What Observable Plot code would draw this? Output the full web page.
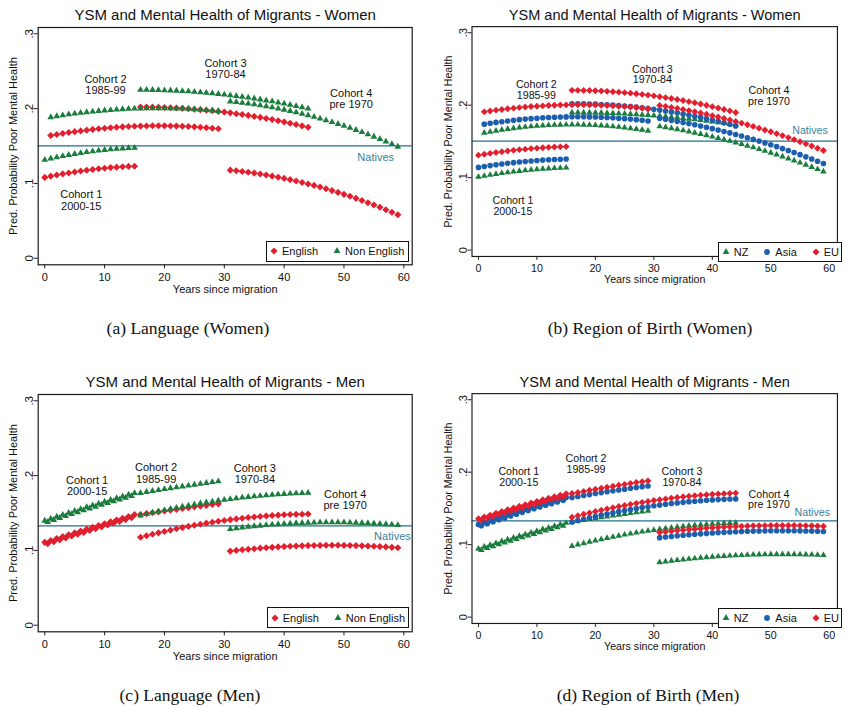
<!DOCTYPE html>
<html><head><meta charset="utf-8">
<script src="https://cdn.jsdelivr.net/npm/d3@7"></script>
<script src="https://cdn.jsdelivr.net/npm/@observablehq/plot@0.6"></script>
<style>
html,body{margin:0;padding:0;background:#fff;}
body{width:845px;height:708px;overflow:hidden;position:relative;font-family:"Liberation Sans",Arial,sans-serif;color:#111;}
.panel{position:absolute;}
.caption{position:absolute;font-family:"Liberation Serif","Times New Roman",serif;font-size:17.5px;color:#111;white-space:nowrap;transform:translate(-50%,-50%);}
.legend{position:absolute;border:1.3px solid #111;background:#fff;display:flex;align-items:center;font-size:11px;box-sizing:border-box;padding-left:3px;}
.legend .item{display:inline-flex;align-items:center;}
.legend .item + .item{margin-left:15px;}
.legend svg{margin-right:4px;overflow:visible;}
</style></head><body>
<script>
// ---------- categories / tick labels ----------
const yrC1 = [0,1,2,3,4,5,6,7,8,9,10,11,12,13,14,15];
const yrC2 = [1,2,3,4,5,6,7,8,9,10,11,12,13,14,15,16,17,18,19,20,21,22,23,24,25,26,27,28,29];
const yrC3 = [16,17,18,19,20,21,22,23,24,25,26,27,28,29,30,31,32,33,34,35,36,37,38,39,40,41,42,43,44];
const yrC4 = [31,32,33,34,35,36,37,38,39,40,41,42,43,44,45,46,47,48,49,50,51,52,53,54,55,56,57,58,59];
const yrC1m = [0,0.5,1,1.5,2,2.5,3,3.5,4,4.5,5,5.5,6,6.5,7,7.5,8,8.5,9,9.5,10,10.5,11,11.5,12,12.5,13,13.5,14,14.5,15];
const yrC2m = [16,17,18,19,20,21,22,23,24,25,26,27,28,29];
const xTicks = [0,10,20,30,40,50,60];
const yTicks = [0,0.1,0.2,0.3];
const cohortLabels = ["Cohort 1\n2000-15","Cohort 2\n1985-99","Cohort 3\n1970-84","Cohort 4\npre 1970"];
const titles = ["YSM and Mental Health of Migrants - Women","YSM and Mental Health of Migrants - Men"];
const xLabel = "Years since migration";
const yLabel = "Pred. Probability Poor Mental Health";
const captions = ["(a) Language (Women)","(b) Region of Birth (Women)","(c) Language (Men)","(d) Region of Birth (Men)"];
const nativesWomen = 0.1503;
const nativesMen = 0.1329;

// ---------- (a) Language, Women ----------
const aEng1 = [0.108,0.1097,0.1112,0.1127,0.114,0.1153,0.1165,0.1176,0.1186,0.1195,0.1203,0.1211,0.1217,0.1222,0.1227,0.123];
const aEng2 = [0.164,0.1654,0.1668,0.168,0.1692,0.1702,0.1712,0.1722,0.173,0.1738,0.1744,0.175,0.1756,0.176,0.1764,0.1766,0.1768,0.177,0.177,0.177,0.1768,0.1766,0.1764,0.176,0.1756,0.175,0.1744,0.1738,0.173];
const aEng3 = [0.202,0.202,0.2019,0.2017,0.2015,0.2011,0.2008,0.2003,0.1998,0.1992,0.1986,0.1978,0.1971,0.1962,0.1953,0.1943,0.1932,0.1921,0.1909,0.1896,0.1882,0.1868,0.1854,0.1838,0.1822,0.1805,0.1788,0.1769,0.175];
const aEng4 = [0.1177,0.1169,0.1159,0.1149,0.1138,0.1125,0.1112,0.1098,0.1083,0.1067,0.105,0.1032,0.1013,0.0993,0.0973,0.0951,0.0928,0.0904,0.088,0.0854,0.0828,0.08,0.0772,0.0742,0.0712,0.0681,0.0648,0.0615,0.0581];
const aNon1 = [0.1315,0.1333,0.1349,0.1365,0.138,0.1393,0.1406,0.1418,0.1428,0.1438,0.1447,0.1455,0.1461,0.1467,0.1472,0.1476];
const aNon2 = [0.1885,0.1898,0.191,0.1922,0.1933,0.1943,0.1952,0.196,0.1968,0.1975,0.1981,0.1987,0.1992,0.1996,0.1999,0.2002,0.2004,0.2005,0.2005,0.2005,0.2004,0.2002,0.1999,0.1996,0.1992,0.1987,0.1981,0.1975,0.1968];
const aNon3 = [0.225,0.225,0.2249,0.2247,0.2245,0.2242,0.2239,0.2234,0.223,0.2224,0.2218,0.2211,0.2204,0.2196,0.2188,0.2178,0.2168,0.2158,0.2147,0.2135,0.2122,0.2109,0.2096,0.2081,0.2066,0.2051,0.2034,0.2017,0.2];
const aNon4 = [0.2095,0.2087,0.2077,0.2067,0.2056,0.2044,0.203,0.2016,0.2001,0.1985,0.1968,0.1949,0.193,0.191,0.1889,0.1867,0.1844,0.182,0.1795,0.1769,0.1742,0.1714,0.1685,0.1655,0.1624,0.1592,0.1559,0.1525,0.149];

// ---------- (b) Region of birth, Women ----------
const bNZ1 = [0.101,0.1024,0.1037,0.105,0.1061,0.1072,0.1082,0.1091,0.11,0.1107,0.1114,0.1121,0.1126,0.113,0.1134,0.1137];
const bNZ2 = [0.1618,0.1633,0.1646,0.1659,0.1671,0.1681,0.1691,0.17,0.1707,0.1714,0.1719,0.1724,0.1727,0.173,0.1731,0.1732,0.1731,0.173,0.1727,0.1724,0.1719,0.1714,0.1707,0.17,0.1691,0.1681,0.1671,0.1659,0.1646];
const bNZ3 = [0.19,0.19,0.1899,0.1898,0.1897,0.1895,0.1892,0.1889,0.1886,0.1882,0.1878,0.1873,0.1868,0.1863,0.1857,0.1851,0.1844,0.1836,0.1829,0.1821,0.1812,0.1803,0.1794,0.1784,0.1773,0.1763,0.1751,0.174,0.1728];
const bNZ4 = [0.1707,0.1694,0.168,0.1666,0.1651,0.1635,0.1619,0.1602,0.1584,0.1565,0.1546,0.1526,0.1506,0.1485,0.1463,0.144,0.1417,0.1393,0.1368,0.1343,0.1317,0.129,0.1263,0.1235,0.1206,0.1176,0.1146,0.1116,0.1084];
const bAsia1 = [0.1141,0.1154,0.1166,0.1177,0.1188,0.1198,0.1207,0.1215,0.1223,0.123,0.1236,0.1242,0.1247,0.1251,0.1254,0.1257];
const bAsia2 = [0.1738,0.175,0.1762,0.1772,0.1782,0.1792,0.18,0.1808,0.1814,0.182,0.1826,0.183,0.1834,0.1836,0.1838,0.184,0.184,0.184,0.1838,0.1836,0.1834,0.183,0.1826,0.182,0.1814,0.1808,0.18,0.1792,0.1782];
const bAsia3 = [0.202,0.202,0.2018,0.2017,0.2014,0.201,0.2006,0.2001,0.1995,0.1988,0.1981,0.1973,0.1964,0.1954,0.1944,0.1932,0.192,0.1907,0.1894,0.1879,0.1864,0.1848,0.1831,0.1814,0.1795,0.1776,0.1756,0.1736,0.1714];
const bAsia4 = [0.1818,0.1805,0.1791,0.1777,0.1762,0.1746,0.173,0.1713,0.1695,0.1676,0.1657,0.1637,0.1617,0.1596,0.1574,0.1551,0.1528,0.1504,0.1479,0.1454,0.1428,0.1401,0.1374,0.1346,0.1317,0.1287,0.1257,0.1227,0.1195];
const bEU1 = [0.131,0.1323,0.1335,0.1347,0.1358,0.1368,0.1377,0.1386,0.1393,0.1401,0.1407,0.1413,0.1418,0.1422,0.1425,0.1428];
const bEU2 = [0.1908,0.192,0.1931,0.1941,0.195,0.1959,0.1967,0.1974,0.1981,0.1986,0.1991,0.1996,0.1999,0.2002,0.2004,0.2005,0.2005,0.2005,0.2004,0.2002,0.1999,0.1996,0.1991,0.1986,0.1981,0.1974,0.1967,0.1959,0.195];
const bEU3 = [0.2205,0.2205,0.2203,0.2202,0.2199,0.2195,0.2191,0.2186,0.218,0.2173,0.2166,0.2158,0.2149,0.2139,0.2129,0.2117,0.2105,0.2092,0.2079,0.2064,0.2049,0.2033,0.2016,0.1999,0.198,0.1961,0.1941,0.1921,0.1899];
const bEU4 = [0.1997,0.1984,0.197,0.1956,0.1941,0.1925,0.1909,0.1892,0.1874,0.1855,0.1836,0.1816,0.1796,0.1775,0.1753,0.173,0.1707,0.1683,0.1658,0.1633,0.1607,0.158,0.1553,0.1525,0.1496,0.1466,0.1436,0.1406,0.1374];

// ---------- (c) Language, Men ----------
const cEng1 = [0.1108,0.1091,0.1133,0.1116,0.1159,0.1141,0.1184,0.1167,0.1209,0.1192,0.1234,0.1217,0.1259,0.1241,0.1284,0.1266,0.1308,0.1291,0.1333,0.1315,0.1357,0.1339,0.1382,0.1364,0.1406,0.1388,0.143,0.1412,0.1454,0.1436,0.1478];
const cEng2 = [0.148,0.1492,0.1504,0.1515,0.1527,0.1538,0.1549,0.156,0.1571,0.1582,0.1592,0.1602,0.1613,0.1622];
const cEng3 = [0.1175,0.1196,0.1216,0.1235,0.1253,0.1271,0.1289,0.1305,0.1321,0.1336,0.135,0.1364,0.1377,0.1389,0.14,0.1411,0.1421,0.143,0.1439,0.1447,0.1454,0.1461,0.1466,0.1471,0.1476,0.1479,0.1482,0.1484,0.1486];
const cEng4 = [0.0991,0.1,0.1008,0.1016,0.1023,0.103,0.1036,0.1041,0.1047,0.1051,0.1055,0.1058,0.1061,0.1064,0.1066,0.1067,0.1068,0.1068,0.1068,0.1067,0.1066,0.1064,0.1061,0.1058,0.1055,0.1051,0.1047,0.1041,0.1036];
const cNon1 = [0.1397,0.138,0.1424,0.1407,0.145,0.1433,0.1476,0.1459,0.1502,0.1485,0.1528,0.151,0.1553,0.1535,0.1578,0.156,0.1602,0.1584,0.1626,0.1609,0.1651,0.1632,0.1674,0.1656,0.1698,0.1679,0.1721,0.1702,0.1744,0.1725,0.1766];
const cNon2 = [0.1768,0.1781,0.1794,0.1806,0.1819,0.1831,0.1843,0.1855,0.1867,0.1878,0.189,0.1901,0.1912,0.1923];
const cNon3 = [0.1467,0.1486,0.1505,0.1521,0.1538,0.1555,0.157,0.1586,0.16,0.1614,0.1628,0.1641,0.1653,0.1665,0.1676,0.1686,0.1696,0.1705,0.1714,0.1722,0.173,0.1737,0.1743,0.1749,0.1754,0.1759,0.1763,0.1766,0.1769];
const cNon4 = [0.1285,0.1296,0.1305,0.1314,0.1323,0.133,0.1338,0.1344,0.135,0.1355,0.136,0.1364,0.1367,0.137,0.1372,0.1374,0.1375,0.1375,0.1375,0.1374,0.1372,0.137,0.1367,0.1364,0.136,0.1355,0.135,0.1344,0.1338];

// ---------- (d) Region of birth, Men ----------
const dNZ1 = [0.0943,0.0926,0.0969,0.0952,0.0994,0.0977,0.102,0.1002,0.1045,0.1027,0.1069,0.1051,0.1094,0.1076,0.1118,0.11,0.1141,0.1123,0.1165,0.1146,0.1188,0.1169,0.1211,0.1192,0.1233,0.1215,0.1256,0.1237,0.1278,0.1258,0.1299];
const dNZ2 = [0.1315,0.1327,0.134,0.1352,0.1364,0.1376,0.1388,0.1399,0.1411,0.1422,0.1434,0.1445,0.1456,0.1467];
const dNZ3 = [0.098,0.1,0.1019,0.1038,0.1056,0.1073,0.109,0.1106,0.1122,0.1137,0.1151,0.1165,0.1178,0.119,0.1202,0.1213,0.1223,0.1233,0.1242,0.1251,0.1259,0.1266,0.1273,0.1279,0.1285,0.1289,0.1294,0.1297,0.13];
const dNZ4 = [0.0756,0.0766,0.0776,0.0785,0.0794,0.0803,0.081,0.0818,0.0824,0.0831,0.0837,0.0842,0.0847,0.0851,0.0855,0.0858,0.0861,0.0863,0.0865,0.0866,0.0867,0.0867,0.0867,0.0866,0.0865,0.0863,0.0861,0.0858,0.0855];
const dAsia1 = [0.1277,0.1261,0.1305,0.1289,0.1332,0.1316,0.1359,0.1343,0.1386,0.1369,0.1412,0.1395,0.1438,0.1421,0.1463,0.1446,0.1488,0.1471,0.1513,0.1495,0.1537,0.1519,0.1561,0.1543,0.1584,0.1566,0.1607,0.1589,0.163,0.1611,0.1652];
const dAsia2 = [0.165,0.1664,0.1678,0.1691,0.1705,0.1718,0.1731,0.1743,0.1754,0.1766,0.1778,0.1789,0.18,0.1809];
const dAsia3 = [0.1311,0.1332,0.1351,0.137,0.1388,0.1407,0.1423,0.144,0.1455,0.147,0.1484,0.1498,0.1512,0.1523,0.1536,0.1546,0.1557,0.1567,0.1576,0.1584,0.1593,0.1599,0.1606,0.1612,0.1617,0.1622,0.1625,0.1629,0.1631];
const dAsia4 = [0.1096,0.1105,0.1113,0.1121,0.1129,0.1136,0.1143,0.1149,0.1155,0.1161,0.1166,0.117,0.1174,0.1178,0.1181,0.1184,0.1187,0.1189,0.119,0.1191,0.1192,0.1192,0.1192,0.1191,0.119,0.1189,0.1187,0.1184,0.1181];
const dEU1 = [0.1357,0.134,0.1383,0.1366,0.1408,0.1391,0.1433,0.1416,0.1458,0.144,0.1482,0.1464,0.1506,0.1488,0.1529,0.1511,0.1552,0.1534,0.1575,0.1556,0.1597,0.1578,0.1619,0.16,0.164,0.1621,0.1661,0.1642,0.1682,0.1662,0.1702];
const dEU2 = [0.1705,0.172,0.1735,0.175,0.1765,0.1779,0.1793,0.1806,0.1819,0.1832,0.1845,0.1857,0.1869,0.188];
const dEU3 = [0.1378,0.1399,0.1419,0.1438,0.1457,0.1476,0.1493,0.151,0.1526,0.1541,0.1556,0.157,0.1584,0.1596,0.1609,0.162,0.1631,0.1642,0.1651,0.166,0.1669,0.1676,0.1683,0.1689,0.1695,0.17,0.1704,0.1708,0.1711];
const dEU4 = [0.1169,0.1178,0.1186,0.1194,0.1202,0.1209,0.1216,0.1222,0.1228,0.1234,0.1239,0.1243,0.1247,0.1251,0.1254,0.1257,0.126,0.1262,0.1263,0.1264,0.1265,0.1265,0.1265,0.1264,0.1263,0.1262,0.126,0.1257,0.1254];

// ---------- styles ----------
const RED = "#e21f2e", GREEN = "#1a7d3d", BLUE = "#1c5fae", TEAL = "#1f6f8b", TEAL_TXT = "#3a819b";
const SYM = {
  English: {symbol: "diamond2", fill: RED, r: 3.2},
  "Non English": {symbol: "triangle", fill: GREEN, r: 2.5},
  NZ: {symbol: "triangle", fill: GREEN, r: 2.5},
  Asia: {symbol: "circle", fill: BLUE, r: 2.9},
  EU: {symbol: "diamond2", fill: RED, r: 3.2}
};

const rows = (years, vals) => years.map((x, i) => ({x, y: vals[i]}));

const panels = [
  {id: "a", left: 0, top: 0, width: 420, xDomain: [-1.1, 61.4], title: titles[0], natives: nativesWomen,
   groups: ["English", "Non English"],
   series: [["English", yrC1, aEng1], ["English", yrC2, aEng2], ["English", yrC3, aEng3], ["English", yrC4, aEng4],
            ["Non English", yrC1, aNon1], ["Non English", yrC2, aNon2], ["Non English", yrC3, aNon3], ["Non English", yrC4, aNon4]],
   labels: [[6.1, 0.0774], [10.15, 0.232], [30.2, 0.2528], [51.2, 0.2125]], nativesAt: [55.3, 0.1342],
   legend: {left: 266, top: 240.7, width: 143, height: 21}, caption: [188, 328]},
  {id: "b", left: 435, top: 0, width: 423.3, xDomain: [-1.1, 61.4], title: titles[0], natives: nativesWomen,
   groups: ["NZ", "Asia", "EU"],
   series: [["NZ", yrC1, bNZ1], ["NZ", yrC2, bNZ2], ["NZ", yrC3, bNZ3], ["NZ", yrC4, bNZ4],
            ["Asia", yrC1, bAsia1], ["Asia", yrC2, bAsia2], ["Asia", yrC3, bAsia3], ["Asia", yrC4, bAsia4],
            ["EU", yrC1, bEU1], ["EU", yrC2, bEU2], ["EU", yrC3, bEU3], ["EU", yrC4, bEU4]],
   labels: [[5.9, 0.0608], [9.9, 0.2215], [29.75, 0.2423], [49.7, 0.2125]], nativesAt: [56.7, 0.165],
   legend: {left: 717.7, top: 241.5, width: 124, height: 20.5}, caption: [650, 328]},
  {id: "c", left: 0, top: 367, width: 420, xDomain: [-1.1, 61.4], title: titles[1], natives: nativesMen,
   groups: ["English", "Non English"],
   series: [["English", yrC1m, cEng1], ["English", yrC2m, cEng2], ["English", yrC3, cEng3], ["English", yrC4, cEng4],
            ["Non English", yrC1m, cNon1], ["Non English", yrC2m, cNon2], ["Non English", yrC3, cNon3], ["Non English", yrC4, cNon4]],
   labels: [[7.07, 0.1865], [18.6, 0.2029], [35.1, 0.2022], [50.2, 0.1673]], nativesAt: [58.1, 0.1191],
   legend: {left: 266.7, top: 607.3, width: 142, height: 21}, caption: [190, 695]},
  {id: "d", left: 435, top: 367, width: 423.3, xDomain: [-1.1, 61.4], title: titles[1], natives: nativesMen,
   groups: ["NZ", "Asia", "EU"],
   series: [["NZ", yrC1m, dNZ1], ["NZ", yrC2m, dNZ2], ["NZ", yrC3, dNZ3], ["NZ", yrC4, dNZ4],
            ["Asia", yrC1m, dAsia1], ["Asia", yrC2m, dAsia2], ["Asia", yrC3, dAsia3], ["Asia", yrC4, dAsia4],
            ["EU", yrC1m, dEU1], ["EU", yrC2m, dEU2], ["EU", yrC3, dEU3], ["EU", yrC4, dEU4]],
   labels: [[6.9, 0.1929], [18.4, 0.2117], [34.8, 0.1929], [49.7, 0.1622]], nativesAt: [57.1, 0.1444],
   legend: {left: 717.7, top: 607.7, width: 124, height: 20.5}, caption: [648, 695]}
];

const yFmt = d => d === 0 ? "0" : String(d).replace(/^0/, "");

function symbolPath(name, r) {
  const map = {diamond2: d3.symbolDiamond2, triangle: d3.symbolTriangle, circle: d3.symbolCircle};
  return d3.symbol(map[name], Math.PI * r * r)();
}

for (const p of panels) {
  const marks = [
    Plot.ruleY([p.natives], {stroke: TEAL, strokeWidth: 1.3})
  ];
  for (const [g, years, vals] of p.series) {
    const s = SYM[g];
    marks.push(Plot.dot(rows(years, vals), {x: "x", y: "y", symbol: s.symbol, fill: s.fill, r: s.r, stroke: "none"}));
  }
  marks.push(Plot.text(p.labels.map(([x, y], i) => ({x, y, text: cohortLabels[i]})),
    {x: "x", y: "y", text: "text", fontSize: 11, lineHeight: 1.02, fill: "#111"}));
  marks.push(Plot.text([{x: p.nativesAt[0], y: p.nativesAt[1], text: "Natives"}],
    {x: "x", y: "y", text: "text", fontSize: 11, fill: TEAL_TXT}));
  marks.push(Plot.frame({stroke: "#1a1a1a", strokeWidth: 1.2}));
  marks.push(Plot.axisX(xTicks, {tickSize: 4, tickPadding: 4, fontSize: 11, label: null, stroke: "#1a1a1a"}));
  marks.push(Plot.axisY(yTicks, {tickSize: 4, tickPadding: 1, tickRotate: -90, fontSize: 11.5, tickFormat: yFmt, label: null, stroke: "#1a1a1a"}));
  marks.push(Plot.text([p.title], {text: d => d, frameAnchor: "top", lineAnchor: "middle", dy: -12, fontSize: 15, fill: "#111"}));
  marks.push(Plot.text([xLabel], {text: d => d, frameAnchor: "bottom", lineAnchor: "middle", dy: 24.2, fontSize: 11, fill: "#111"}));
  marks.push(Plot.text([yLabel], {text: d => d, frameAnchor: "left", textAnchor: "middle", lineAnchor: "middle", dx: -24.4, rotate: -90, fontSize: 11, fill: "#111"}));

  const chart = Plot.plot({
    width: p.width, height: 300,
    marginLeft: 37.7, marginRight: 8.3, marginTop: 27, marginBottom: 35.7,
    x: {domain: p.xDomain},
    y: {domain: [-0.0088, 0.3084]},
    style: {fontFamily: "Liberation Sans, Arial, sans-serif", fontSize: "11px", color: "#111", background: "transparent", overflow: "visible"},
    marks
  });
  const div = document.createElement("div");
  div.className = "panel";
  div.style.left = p.left + "px";
  div.style.top = p.top + "px";
  div.appendChild(chart);
  document.body.appendChild(div);

  // legend
  const lg = document.createElement("div");
  lg.className = "legend";
  Object.assign(lg.style, {left: p.legend.left + "px", top: p.legend.top + "px", width: p.legend.width + "px", height: p.legend.height + "px"});
  for (const g of p.groups) {
    const s = SYM[g];
    const item = document.createElement("span");
    item.className = "item";
    item.innerHTML = `<svg width="8" height="8" viewBox="-4 -4 8 8"><path d="${symbolPath(s.symbol, s.r)}" fill="${s.fill}"/></svg><span>${g}</span>`;
    lg.appendChild(item);
  }
  document.body.appendChild(lg);
}

captions.forEach((c, i) => {
  const el = document.createElement("div");
  el.className = "caption";
  el.textContent = c;
  el.style.left = panels[i].caption[0] + "px";
  el.style.top = panels[i].caption[1] + "px";
  document.body.appendChild(el);
});
</script>
</body></html>
